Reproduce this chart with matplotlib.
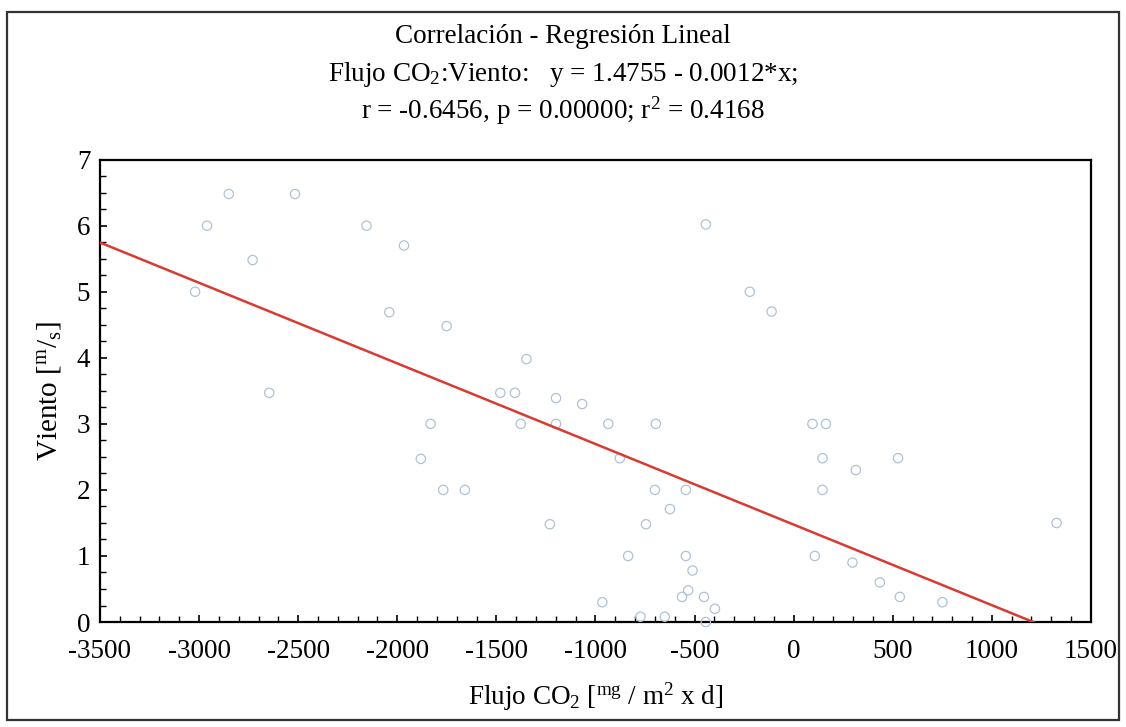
import numpy as np
import matplotlib
matplotlib.use("Agg")
import matplotlib.pyplot as plt
from matplotlib.patches import Rectangle
from matplotlib.ticker import MultipleLocator

plt.rcParams['font.family'] = ['Liberation Serif', 'DejaVu Serif']
plt.rcParams['mathtext.fontset'] = 'custom'
plt.rcParams['mathtext.rm'] = 'Liberation Serif'
plt.rcParams['mathtext.it'] = 'Liberation Serif'
plt.rcParams['axes.unicode_minus'] = False

# Flujo CO2 (x) and Viento (y)
flujo = [-3020, -2960, -2850, -2730, -2646, -2516, -2155, -2040, -1966, -1751,
         -1832, -1881, -1768, -1659, -1480, -1406, -1348, -1377, -1199, -1199,
         -1067, -1230, -935, -877, -695, -835, -965, -745, -700, -624,
         -544, -544, -510, -532, -563, -452, -397, -773, -650, -443,
         -443, -221, -111, 95, 163, 146, 146, 314, 527, 107,
         297, 435, 536, 751, 1327]
viento = [5.0, 6.0, 6.48, 5.48, 3.47, 6.48, 6.0, 4.69, 5.7, 4.48,
          3.0, 2.47, 2.0, 2.0, 3.47, 3.47, 3.98, 3.0, 3.39, 3.0,
          3.3, 1.48, 3.0, 2.48, 3.0, 1.0, 0.3, 1.48, 2.0, 1.71,
          2.0, 1.0, 0.78, 0.48, 0.38, 0.38, 0.2, 0.08, 0.08, 0.0,
          6.02, 5.0, 4.7, 3.0, 3.0, 2.48, 2.0, 2.3, 2.48, 1.0,
          0.9, 0.6, 0.38, 0.3, 1.5]

intercept = 1.4755
slope = -0.00122

xticks = [-3500, -3000, -2500, -2000, -1500, -1000, -500, 0, 500, 1000, 1500]
yticks = [0, 1, 2, 3, 4, 5, 6, 7]

fig = plt.figure(figsize=(11.26, 7.27), dpi=100)
ax = fig.add_axes([0.0888, 0.1444, 0.880, 0.636])

ax.scatter(flujo, viento, s=45, facecolors='none', edgecolors='#b0c2d3',
           linewidths=0.9, zorder=3, clip_on=False)
xl = np.array([-3500, 1500])
yl = intercept + slope * xl
ax.plot(xl, yl, color='#d93a32', lw=1.8, zorder=4)

ax.set_xlim(-3500, 1500)
ax.set_ylim(0, 7)
ax.set_xticks(xticks)
ax.set_yticks(yticks)
ax.xaxis.set_minor_locator(MultipleLocator(100))
ax.yaxis.set_minor_locator(MultipleLocator(0.25))
ax.tick_params(which='both', direction='in', labelsize=19.5, top=False, right=False)
ax.tick_params(which='major', length=5, width=1.2)
ax.tick_params(which='minor', length=4, width=1.0)
ax.tick_params(axis='x', pad=12)
ax.tick_params(axis='y', pad=7)
for s in ax.spines.values():
    s.set_linewidth(1.6)

ax.set_xlabel('Flujo CO$_2$ [$^{\\mathrm{mg}}$ / m$^2$ x d]', fontsize=19.5, labelpad=12)
ax.set_ylabel('Viento [$^{\\mathrm{m}}$/$_{\\mathrm{s}}$]', fontsize=21, labelpad=10)

fig.text(0.50, 0.950, 'Correlación - Regresión Lineal', ha='center', va='center', fontsize=19.5)
fig.text(0.50, 0.898, 'Flujo CO$_2$:Viento:   y = 1.4755 - 0.0012*x;', ha='center', va='center', fontsize=19.5)
fig.text(0.50, 0.847, 'r = -0.6456, p = 0.00000; r$^2$ = 0.4168', ha='center', va='center', fontsize=19.5)

fig.patches.append(Rectangle((0.006, 0.01), 0.988, 0.973, transform=fig.transFigure,
                             fill=False, edgecolor='#333333', lw=1.6))

fig.savefig('out.png', dpi=100)
